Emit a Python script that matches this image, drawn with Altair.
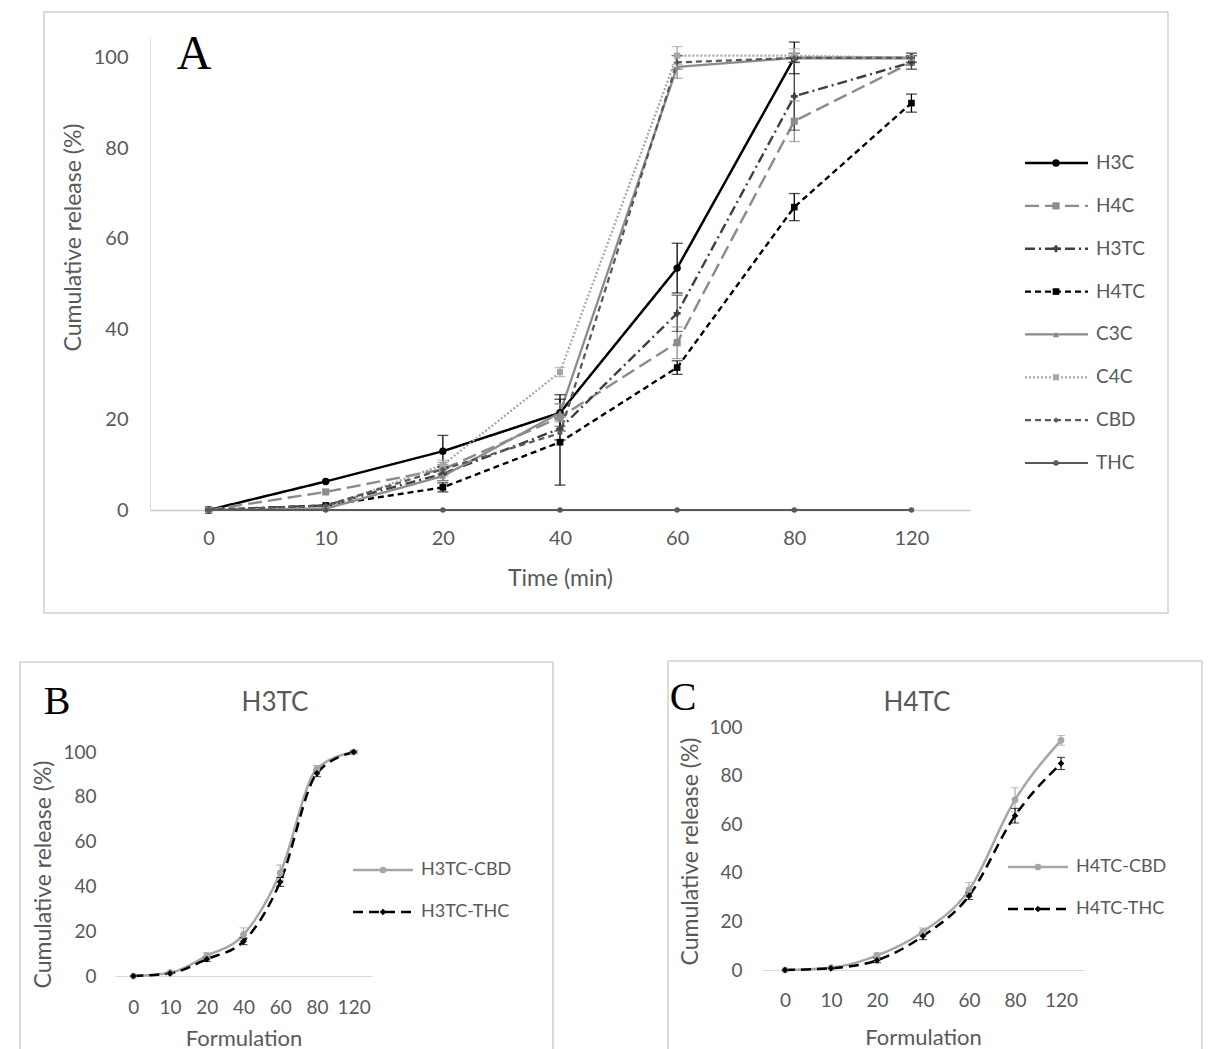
import altair as alt
import pandas as pd

# ---------------- data ----------------
times = ["0", "10", "20", "40", "60", "80", "120"]

series_a = ["H3C", "H4C", "H3TC", "H4TC", "C3C", "C4C", "CBD", "THC"]
h3c = [0, 6.3, 13.0, 21.5, 53.5, 100.0, 100.0]
h3c_err = [0, 0.5, 3.5, 4.0, 5.5, 3.5, 1.0]
h4c = [0, 4.0, 9.0, 20.5, 37.0, 86.0, 99.0]
h4c_err = [0, 0.5, 1.5, 3.0, 3.5, 4.5, 1.5]
h3tc = [0, 1.0, 8.0, 18.0, 43.5, 91.5, 99.0]
h3tc_err = [0, 0.3, 1.5, 2.5, 4.0, 7.5, 1.5]
h4tc = [0, 1.0, 5.0, 15.0, 31.5, 67.0, 90.0]
h4tc_err = [0, 0.3, 1.0, 9.5, 1.5, 3.0, 2.0]
c3c = [0, 0.3, 7.5, 21.5, 98.0, 100.0, 100.0]
c3c_err = [0, 0.2, 1.0, 2.0, 2.5, 1.0, 1.0]
c4c = [0, 0.5, 10.0, 30.5, 100.5, 100.5, 100.0]
c4c_err = [0, 0.2, 1.0, 1.0, 2.0, 1.5, 1.0]
cbd = [0, 1.0, 9.0, 17.0, 99.0, 100.0, 100.0]
cbd_err = [0, 0.2, 1.0, 1.5, 1.5, 1.0, 1.0]
thc = [0, 0, 0, 0, 0, 0, 0]
thc_err = [0, 0, 0, 0, 0, 0, 0]

kinds = ["CBD", "THC"]
b_labels = ["H3TC-CBD", "H3TC-THC"]
b_cbd = [0, 1.5, 9.0, 18.5, 46.0, 92.5, 100.0]
b_cbd_err = [0, 0.4, 1.5, 3.0, 3.5, 1.5, 0.5]
b_thc = [0, 1.2, 7.5, 15.5, 42.0, 90.5, 100.0]
b_thc_err = [0, 0.3, 1.0, 1.5, 2.0, 1.5, 0.5]

c_labels = ["H4TC-CBD", "H4TC-THC"]
c_cbd = [0, 1.0, 6.0, 15.8, 33.0, 70.0, 94.5]
c_cbd_err = [0, 0.3, 1.0, 1.5, 3.0, 5.0, 2.0]
c_thc = [0, 0.7, 4.0, 14.0, 30.5, 63.5, 85.0]
c_thc_err = [0, 0.3, 1.0, 1.5, 1.5, 3.0, 2.5]

# ---------------- styles ----------------
TXT = "#595959"
FONT = "Lato"
SERIF = "Liberation Serif"
FRAME = "#cfcfcf"

a_colors = ["#000000", "#8c8c8c", "#404040", "#000000", "#8c8c8c", "#a6a6a6", "#595959", "#595959"]
a_dashes = [[1, 0], [14, 6], [10, 4, 2, 4], [6, 4], [1, 0], [2, 2], [6, 4], [1, 0]]
a_widths = [2.5, 2.2, 2.2, 2.5, 1.7, 1.4, 2.2, 2.2]
a_shapes = ["circle", "square", "cross", "square", "triangle-up", "square", "diamond", "circle"]
a_sizes = [55, 30, 40, 150, 55, 60, 35, 28]

b_colors = ["#a6a6a6", "#000000"]
b_dashes = [[1, 0], [10, 6]]
b_shapes = ["circle", "diamond"]


def long_df(names, vals, errs):
    rows = []
    for n, v, e in zip(names, vals, errs):
        for t, y, er in zip(times, v, e):
            rows.append({"series": n, "time": t, "value": y, "lo": y - er, "hi": y + er, "err": er})
    return pd.DataFrame(rows)


def one():
    return alt.Data(values=[{}])


def cell_rect(x1, x2, y1, y2):
    return alt.Chart(one()).mark_rect(fill="white", opacity=0).encode(
        x=alt.value(x1), x2=alt.value(x2), y=alt.value(y1), y2=alt.value(y2))


def frame_rect(x1, x2, y1, y2):
    return alt.Chart(one()).mark_rect(fill=None, stroke=FRAME, strokeWidth=1.5).encode(
        x=alt.value(x1), x2=alt.value(x2), y=alt.value(y1), y2=alt.value(y2))


def frame_open(x1, x2, y1, y2):
    top = alt.Chart(one()).mark_rule(stroke=FRAME, strokeWidth=1.5).encode(
        x=alt.value(x1), x2=alt.value(x2), y=alt.value(y1))
    left = alt.Chart(one()).mark_rule(stroke=FRAME, strokeWidth=1.5).encode(
        x=alt.value(x1), y=alt.value(y1), y2=alt.value(y2))
    right = alt.Chart(one()).mark_rule(stroke=FRAME, strokeWidth=1.5).encode(
        x=alt.value(x2), y=alt.value(y1), y2=alt.value(y2))
    return alt.layer(top, left, right)


def label_text(txt, x, y, size, font, color="#000000"):
    return alt.Chart(alt.Data(values=[{"t": txt}])).mark_text(
        font=font, fontSize=size, color=color, align="center", baseline="middle").encode(
        x=alt.value(x), y=alt.value(y), text="t:N")


# ---------------- panel A ----------------
WA, HA = 820, 472
dfa = long_df(series_a, [h3c, h4c, h3tc, h4tc, c3c, c4c, cbd, thc],
              [h3c_err, h4c_err, h3tc_err, h4tc_err, c3c_err, c4c_err, cbd_err, thc_err])
dfa_err = dfa[dfa["err"] >= 0.8]

colA = alt.Color("series:N", scale=alt.Scale(domain=series_a, range=a_colors), legend=None)
dashA = alt.StrokeDash("series:N", scale=alt.Scale(domain=series_a, range=a_dashes), legend=None)
widthA = alt.StrokeWidth("series:O", scale=alt.Scale(domain=series_a, range=a_widths), legend=None)
shapeA = alt.Shape("series:N", scale=alt.Scale(domain=series_a, range=a_shapes), legend=None)
sizeA = alt.Size("series:O", scale=alt.Scale(domain=series_a, range=a_sizes), legend=None)

xA = alt.X("time:O", sort=times, scale=alt.Scale(type="point", padding=0.5, domain=times),
           axis=alt.Axis(title="Time (min)", labelAngle=0, labelFont=FONT, labelFontSize=20,
                         labelColor=TXT, labelPadding=28, labelBaseline="middle", ticks=False,
                         domainColor="#c8c8c8", domainWidth=1.5, grid=False,
                         titleFont=FONT, titleFontSize=23, titleColor=TXT, titleFontWeight="normal",
                         titleY=68, titleBaseline="middle"))
yA = alt.Y("value:Q", scale=alt.Scale(domain=[0, 104.4], nice=False, zero=True),
           axis=alt.Axis(values=[0, 20, 40, 60, 80, 100], title="Cumulative release (%)",
                         labelFont=FONT, labelFontSize=20, labelColor=TXT, labelPadding=22,
                         labelBaseline="middle", ticks=False, domainColor="#dcdcdc", domainWidth=1,
                         grid=False, titleFont=FONT, titleFontSize=23, titleColor=TXT,
                         titleFontWeight="normal", titleX=-77, titleY=199,
                         titleBaseline="middle", titleAlign="center"))

baseA = alt.Chart(dfa)
linesA = baseA.mark_line().encode(x=xA, y=yA, color=colA, strokeDash=dashA, strokeWidth=widthA)
errA = alt.Chart(dfa_err).mark_rule(strokeWidth=1.3).encode(
    x=alt.X("time:O", sort=times), y=alt.Y("lo:Q"), y2="hi:Q", color=colA)
capLoA = alt.Chart(dfa_err).mark_tick(orient="horizontal", size=11, thickness=1.3).encode(
    x=alt.X("time:O", sort=times), y=alt.Y("lo:Q"), color=colA)
capHiA = alt.Chart(dfa_err).mark_tick(orient="horizontal", size=11, thickness=1.3).encode(
    x=alt.X("time:O", sort=times), y=alt.Y("hi:Q"), color=colA)
ptsA = baseA.mark_point(filled=True, opacity=1).encode(
    x=alt.X("time:O", sort=times), y="value:Q", color=colA, shape=shapeA, size=sizeA)

mainA = alt.layer(linesA, errA, capLoA, capHiA, ptsA)

legA_df = pd.DataFrame({"series": series_a})
legY = alt.Y("series:N", scale=alt.Scale(type="point", domain=series_a, range=[125, 425], padding=0),
             axis=None)
legA_rule = alt.Chart(legA_df).mark_rule().encode(
    x=alt.value(875), x2=alt.value(938), y=legY, color=colA, strokeDash=dashA, strokeWidth=widthA)
legA_pts = alt.Chart(legA_df).mark_point(filled=True, opacity=1).encode(
    x=alt.value(906), y=legY, color=colA, shape=shapeA, size=sizeA)
legA_txt = alt.Chart(legA_df).mark_text(align="left", baseline="middle", font=FONT, fontSize=19,
                                         color=TXT).encode(x=alt.value(946), y=legY, text="series:N")
legendA = alt.layer(legA_rule, legA_pts, legA_txt)

panelA = alt.layer(
    cell_rect(-150, 1058, -38, 602),
    frame_rect(-106, 1018, -26, 575),
    mainA,
    legendA,
    label_text("A", 44, 17, 48, SERIF),
).resolve_scale(y="independent").properties(width=WA, height=HA)


# ---------------- panels B and C ----------------
def small_panel(labels, cbd_v, cbd_e, thc_v, thc_e, title, letter, W, H, xrange, yrange, yoff,
                cell, frame, title_pos, letter_pos, leg_rows, leg_x, yt):
    df = long_df(kinds, [cbd_v, thc_v], [cbd_e, thc_e])
    df_err = df[df["err"] >= 0.4]
    col = alt.Color("series:N", scale=alt.Scale(domain=kinds, range=b_colors), legend=None)
    dash = alt.StrokeDash("series:N", scale=alt.Scale(domain=kinds, range=b_dashes), legend=None)
    shp = alt.Shape("series:N", scale=alt.Scale(domain=kinds, range=b_shapes), legend=None)
    x = alt.X("time:O", sort=times,
              scale=alt.Scale(type="point", padding=0.5, domain=times, range=xrange),
              axis=alt.Axis(title="Formulation", labelAngle=0, labelFont=FONT, labelFontSize=19,
                            labelColor=TXT, labelPadding=yt[0], labelBaseline="middle", ticks=False,
                            domainColor="#d9d9d9", domainWidth=1.2, grid=False,
                            titleFont=FONT, titleFontSize=22, titleColor=TXT,
                            titleFontWeight="normal", titleY=yt[1], titleBaseline="middle"))
    y = alt.Y("value:Q", scale=alt.Scale(domain=[0, 100], nice=False, range=yrange),
              axis=alt.Axis(values=[0, 20, 40, 60, 80, 100], title="Cumulative release (%)",
                            labelFont=FONT, labelFontSize=19, labelColor=TXT, labelPadding=yt[2],
                            labelBaseline="middle", ticks=False, domain=False, grid=False,
                            offset=yoff, titleFont=FONT, titleFontSize=23, titleColor=TXT,
                            titleFontWeight="normal", titleX=yt[3], titleY=yt[4],
                            titleBaseline="middle", titleAlign="center"))
    lines = alt.Chart(df).mark_line(interpolate="monotone", strokeWidth=2.5).encode(
        x=x, y=y, color=col, strokeDash=dash)
    err = alt.Chart(df_err).mark_rule(strokeWidth=1.1).encode(
        x=alt.X("time:O", sort=times), y="lo:Q", y2="hi:Q", color=col)
    capLo = alt.Chart(df_err).mark_tick(orient="horizontal", size=8, thickness=1.1).encode(
        x=alt.X("time:O", sort=times), y="lo:Q", color=col)
    capHi = alt.Chart(df_err).mark_tick(orient="horizontal", size=8, thickness=1.1).encode(
        x=alt.X("time:O", sort=times), y="hi:Q", color=col)
    pts = alt.Chart(df).mark_point(filled=True, opacity=1, size=45).encode(
        x=alt.X("time:O", sort=times), y="value:Q", color=col, shape=shp)
    main = alt.layer(lines, err, capLo, capHi, pts)

    leg_df = pd.DataFrame({"series": kinds, "label": labels})
    ly = alt.Y("series:N", scale=alt.Scale(type="point", domain=kinds, range=leg_rows, padding=0),
               axis=None)
    lrule = alt.Chart(leg_df).mark_rule(strokeWidth=2.5).encode(
        x=alt.value(leg_x[0]), x2=alt.value(leg_x[1]), y=ly, color=col, strokeDash=dash)
    lpts = alt.Chart(leg_df).mark_point(filled=True, opacity=1, size=45).encode(
        x=alt.value((leg_x[0] + leg_x[1]) / 2), y=ly, color=col, shape=shp)
    ltxt = alt.Chart(leg_df).mark_text(align="left", baseline="middle", font=FONT, fontSize=18,
                                        color=TXT).encode(x=alt.value(leg_x[1] + 8), y=ly,
                                                          text="label:N")
    legend = alt.layer(lrule, lpts, ltxt)

    return alt.layer(
        cell_rect(*cell),
        frame_open(*frame),
        main,
        legend,
        label_text(title, title_pos[0], title_pos[1], 26, FONT, TXT),
        label_text(letter, letter_pos[0], letter_pos[1], 40, SERIF),
    ).resolve_scale(y="independent").properties(width=W, height=H)


# panel B: view origin shares x with panel A (abs 150); plot drawn from abs 115
panelB = small_panel(b_labels, b_cbd, b_cbd_err, b_thc, b_thc_err, "H3TC", "B", 222, 224,
                     xrange=[-35, 222], yrange=[224, 0], yoff=35,
                     cell=(-150, 454, -112, 297), frame=(-130, 403, -90, 297),
                     title_pos=(125, -49), letter_pos=(-93, -50), leg_rows=[118, 160],
                     leg_x=(203, 263), yt=(31, 62, 19, -72, 122))
# panel C: view top shares y with panel B (abs 752); plot top at abs 727
panelC = small_panel(c_labels, c_cbd, c_cbd_err, c_thc, c_thc_err, "H4TC", "C", 322, 218,
                     xrange=[0, 322], yrange=[218, -25], yoff=0,
                     cell=(-158, 446, -112, 297), frame=(-94, 440, -91, 297),
                     title_pos=(155, -49), letter_pos=(-79, -54), leg_rows=[115, 157],
                     leg_x=(246, 306), yt=(30, 67, 20, -72, 99))

row = alt.concat(panelB, panelC, columns=2, align="none", spacing=0)
chart = alt.concat(panelA, row, columns=1, align="none", spacing=0).resolve_scale(
    color="independent", strokeDash="independent", shape="independent",
    size="independent", strokeWidth="independent",
).properties(padding=0, background="white").configure_view(stroke="transparent", strokeWidth=0)

chart.save("out.html", embed_options={"renderer": "svg", "actions": False})
